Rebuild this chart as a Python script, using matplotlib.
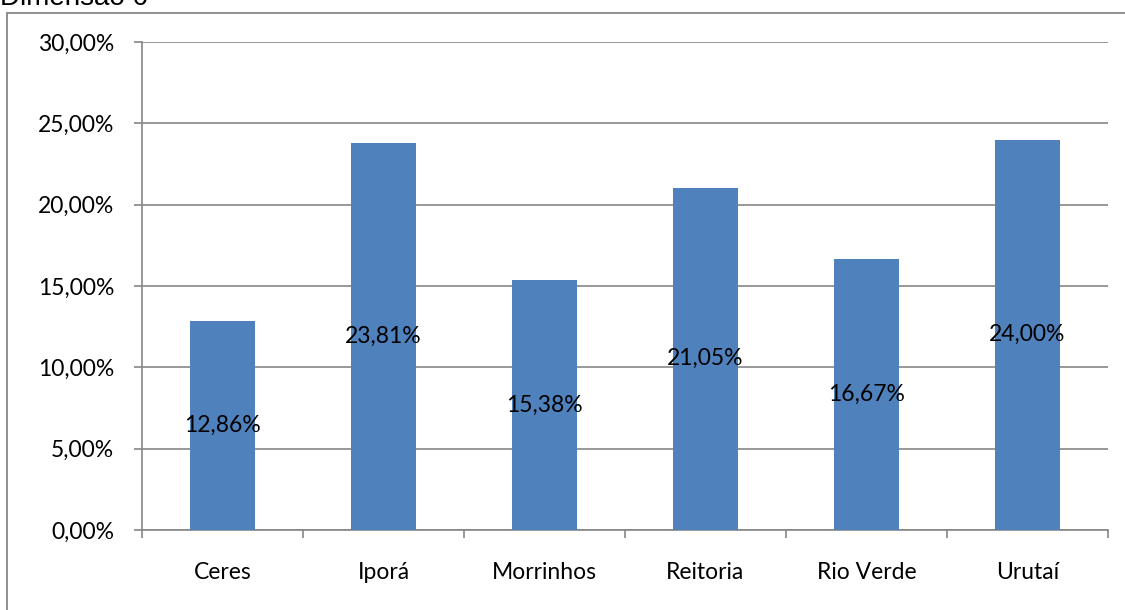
import matplotlib
matplotlib.use('Agg')
import matplotlib.pyplot as plt
from matplotlib.patches import Rectangle
from matplotlib.ticker import FuncFormatter, MultipleLocator

campi = ['Ceres', 'Iporá', 'Morrinhos', 'Reitoria', 'Rio Verde', 'Urutaí']
percentuais = [12.86, 23.81, 15.38, 21.05, 16.67, 24.00]
titulo = 'Dimensão 6'


def pct_br(v, pos=None):
    return ('%.2f%%' % v).replace('.', ',')


def main():
    plt.rcParams['font.family'] = ['Lato', 'DejaVu Sans']
    W, H = 1125, 610
    fig = plt.figure(figsize=(W / 100, H / 100), dpi=100)

    # outer chart frame, bottom edge runs past the image
    fig.patches.append(Rectangle((7 / W, -0.05), 1.2, 1 - 13 / H + 0.05,
                                 transform=fig.transFigure, fill=False,
                                 edgecolor='#868686', lw=1.3))
    fig.text(0, 1 - 5 / H, titulo, fontsize=20, family='Liberation Sans',
             va='baseline', ha='left')

    left, right, top, bottom = 142, 1108, 42, 530
    ax = fig.add_axes([left / W, 1 - bottom / H, (right - left) / W, (bottom - top) / H])

    x = range(len(campi))
    ax.bar(x, percentuais, width=0.4, color='#4F81BD', zorder=3)
    for i, v in enumerate(percentuais):
        ax.text(i, v / 2, pct_br(v), ha='center', va='center', fontsize=16.5, zorder=4)

    ax.set_xlim(-0.5, len(campi) - 0.5)
    ax.set_ylim(0, 30)
    ax.yaxis.set_major_locator(MultipleLocator(5))
    ax.yaxis.set_major_formatter(FuncFormatter(pct_br))
    ax.grid(axis='y', color='#868686', lw=1.2, zorder=1)

    ax.set_xticks([i + 0.5 for i in range(-1, len(campi))], minor=False)
    ax.set_xticklabels([])
    ax.set_xticks(list(x), minor=True)
    ax.set_xticklabels(campi, minor=True)
    ax.tick_params(axis='x', which='major', length=6, color='#868686', width=1.2)
    ax.tick_params(axis='x', which='minor', length=0, pad=23, labelsize=16.5)
    ax.tick_params(axis='y', length=6, color='#868686', width=1.2, labelsize=16.5, pad=14)

    for side in ['top', 'right']:
        ax.spines[side].set_visible(False)
    for side in ['left', 'bottom']:
        ax.spines[side].set_color('#868686')
        ax.spines[side].set_linewidth(1.2)

    fig.savefig('out.png', dpi=100)


if __name__ == '__main__':
    main()
